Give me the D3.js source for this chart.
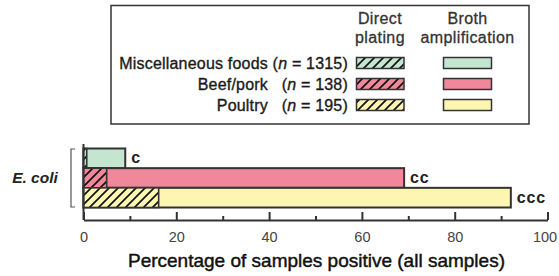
<!DOCTYPE html>
<html><head><meta charset="utf-8">
<script src="https://cdn.jsdelivr.net/npm/d3@7"></script>
<style>
html,body{margin:0;padding:0;background:#fff;}
svg{display:block;font-family:"Liberation Sans",Arial,Helvetica,sans-serif;}
</style></head>
<body>
<svg id="chart" width="559" height="276"></svg>
<script>
// ---- data ----
const categories = ["Miscellaneous foods", "Beef/pork", "Poultry"];
const sampleCounts = [1315, 138, 195];
const directPlating = [0.7, 5.0, 16.2];
const brothAmplification = [9.0, 69.1, 92.1];
const significance = ["c", "cc", "ccc"];
const fillColors = ["#c4e5d0", "#f0879b", "#fdf6b2"];
const majorTicks = [0, 20, 40, 60, 80, 100];
const minorTicks = [10, 30, 50, 70, 90];
const organism = "E. coli";
const xTitle = "Percentage of samples positive (all samples)";
const legendHeaders = [["Direct", "plating"], ["Broth", "amplification"]];

const svg = d3.select("#chart");
const ink = "#333";

// hatch patterns
const defs = svg.append("defs");
categories.forEach((c, i) => {
  const p = defs.append("pattern").attr("id", "hatch" + i)
    .attr("patternUnits", "userSpaceOnUse").attr("width", 9).attr("height", 9);
  p.append("rect").attr("width", 9).attr("height", 9).attr("fill", fillColors[i]);
  p.append("path").attr("d", "M-1,1 l2,-2 M0,9 l9,-9 M8,10 l2,-2")
    .attr("stroke", "#111").attr("stroke-width", 1.7);
});

// scales
const x = d3.scaleLinear().domain([0, 100]).range([83.5, 547.5]);
const y = d3.scaleBand().domain(categories).range([148.5, 207.5]).padding(0);

// bracket
svg.append("path")
  .attr("d", `M75,${y.range()[0] + 0.5} H71 V${y.range()[1] - 0.5} H75`)
  .attr("fill", "none").attr("stroke", "#555").attr("stroke-width", 1.2);

svg.append("text").attr("x", 35).attr("y", 182.5).attr("text-anchor", "middle")
  .attr("font-size", 15.5).attr("font-weight", "bold").attr("font-style", "italic")
  .attr("fill", "#222").text(organism);

// broth bars
svg.append("g").selectAll("rect").data(categories).join("rect")
  .attr("x", x(0)).attr("y", d => y(d))
  .attr("width", (d, i) => x(brothAmplification[i]) - x(0))
  .attr("height", y.bandwidth())
  .attr("fill", (d, i) => fillColors[i])
  .attr("stroke", ink).attr("stroke-width", 2);

// direct plating bars (hatched)
svg.append("g").selectAll("rect").data(categories).join("rect")
  .attr("x", x(0)).attr("y", d => y(d))
  .attr("width", (d, i) => x(directPlating[i]) - x(0))
  .attr("height", y.bandwidth())
  .attr("fill", (d, i) => `url(#hatch${i})`)
  .attr("stroke", ink).attr("stroke-width", 1.6);

// significance labels
svg.append("g").selectAll("text").data(categories).join("text")
  .attr("x", (d, i) => x(brothAmplification[i]) + 6)
  .attr("y", d => y(d) + y.bandwidth() / 2 + 5)
  .attr("font-size", 16).attr("font-weight", "bold").attr("fill", "#222")
  .attr("letter-spacing", 0.8)
  .text((d, i) => significance[i]);

// y axis line
svg.append("line").attr("x1", x(0)).attr("x2", x(0)).attr("y1", 144).attr("y2", 220)
  .attr("stroke", ink).attr("stroke-width", 2);

// x axis
const axisY = 220;
const gx = svg.append("g").attr("transform", `translate(0,${axisY})`)
  .call(d3.axisBottom(x).tickValues(majorTicks).tickSize(-8).tickSizeOuter(0).tickPadding(12));
gx.select(".domain").attr("stroke", ink).attr("stroke-width", 2);
gx.selectAll(".tick line").attr("stroke", ink).attr("stroke-width", 2);
gx.selectAll(".tick text").attr("font-size", 14.5).attr("fill", "#444")
  .attr("font-family", "'Liberation Sans',Arial,sans-serif").attr("dy", "0.68em")
  .attr("dx", d => d === 100 ? -3 : 0);
const gm = svg.append("g").attr("transform", `translate(0,${axisY})`)
  .call(d3.axisBottom(x).tickValues(minorTicks).tickSize(-4).tickFormat(""));
gm.select(".domain").remove();
gm.selectAll(".tick line").attr("stroke", ink).attr("stroke-width", 2);

svg.append("text").attr("x", (x(0) + x(100)) / 2 + 1).attr("y", 266.5)
  .attr("text-anchor", "middle").attr("font-size", 19).attr("fill", "#111")
  .attr("stroke", "#111").attr("stroke-width", 0.45)
  .text(xTitle);

// legend
const lg = svg.append("g");
lg.append("rect").attr("x", 111).attr("y", 5.5).attr("width", 418).attr("height", 118.5)
  .attr("fill", "#fff").attr("stroke", ink).attr("stroke-width", 1.5);

const colX = [380, 467.5];
legendHeaders.forEach((h, j) => {
  h.forEach((t, k) => {
    lg.append("text").attr("x", colX[j]).attr("y", 24 + k * 18.5)
      .attr("text-anchor", "middle").attr("font-size", 16).attr("fill", "#333")
      .attr("stroke", "#333").attr("stroke-width", 0.3)
      .attr("letter-spacing", 0.4).text(t);
  });
});

const ly = d3.scaleBand().domain(categories).range([52.5, 115.5]).padding(0);
const rows = lg.selectAll("g.row").data(categories).join("g").attr("class", "row");
rows.append("text").attr("x", 268).attr("y", d => ly(d) + ly.bandwidth() / 2 + 5.5)
  .attr("text-anchor", "end").attr("font-size", 16).attr("fill", "#1a1a1a")
  .attr("stroke", "#1a1a1a").attr("stroke-width", 0.35)
  .attr("letter-spacing", 0.2).text(d => d);
const nt = rows.append("text").attr("x", 348).attr("y", d => ly(d) + ly.bandwidth() / 2 + 5.5)
  .attr("text-anchor", "end").attr("font-size", 16).attr("fill", "#1a1a1a")
  .attr("stroke", "#1a1a1a").attr("stroke-width", 0.35)
  .attr("letter-spacing", 0.2);
nt.append("tspan").text("(");
nt.append("tspan").attr("font-style", "italic").text("n");
nt.append("tspan").text((d, i) => " = " + sampleCounts[i] + ")");

rows.append("rect").attr("x", 356.5).attr("y", d => ly(d) + ly.bandwidth() / 2 - 5.5)
  .attr("width", 47.5).attr("height", 11)
  .attr("fill", (d, i) => `url(#hatch${i})`).attr("stroke", ink).attr("stroke-width", 1.5);
rows.append("rect").attr("x", 443.5).attr("y", d => ly(d) + ly.bandwidth() / 2 - 5.5)
  .attr("width", 48).attr("height", 11)
  .attr("fill", (d, i) => fillColors[i]).attr("stroke", ink).attr("stroke-width", 1.5);
</script>
</body></html>
